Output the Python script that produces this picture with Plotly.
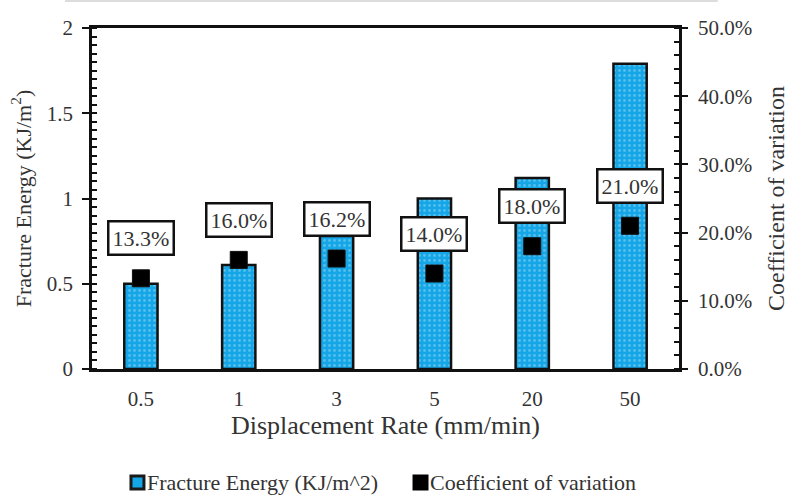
import plotly.graph_objects as go

# Fracture energy and its coefficient of variation at each loading rate
rates = ["0.5", "1", "3", "5", "20", "50"]
fracture_energy = [0.50, 0.61, 0.78, 1.00, 1.12, 1.79]   # KJ/m^2
cv_percent = [13.3, 16.0, 16.2, 14.0, 18.0, 21.0]       # %

energy_name = "Fracture Energy (KJ/m^2)"
cv_name = "Coefficient of variation"

SERIF = "Liberation Serif, Times New Roman, serif"
BAR_BLUE = "#14A6E6"
TXT = "#333333"

fig = go.Figure()

fig.add_trace(go.Bar(
    x=rates, y=fracture_energy,
    name=energy_name,
    width=0.34,
    marker=dict(
        color=BAR_BLUE,
        line=dict(color="#111111", width=2.5),
        pattern=dict(shape=".", fgcolor="rgba(255,255,255,0.55)",
                     bgcolor=BAR_BLUE, size=5, solidity=0.25),
    ),
    yaxis="y",
))

fig.add_trace(go.Scatter(
    x=rates, y=[v / 100 for v in cv_percent],
    name=cv_name,
    mode="markers",
    marker=dict(symbol="square", size=17, color="#000000",
                line=dict(color="#111111", width=1)),
    yaxis="y2",
))

# Boxed value labels placed above each CV marker (category index positions)
for i, v in enumerate(cv_percent):
    fig.add_annotation(
        x=i, y=v / 100, yref="y2", xref="x",
        text=f"{v:.1f}%", showarrow=False, yshift=40,
        font=dict(family=SERIF, size=22, color=TXT),
        bgcolor="white", bordercolor="#111111", borderwidth=2.5, borderpad=3,
    )

# faint frame line along the top edge
fig.add_shape(type="line", xref="paper", yref="paper",
              x0=-0.046, x1=1.066, y0=1.079, y1=1.079,
              line=dict(color="#DDDDDD", width=2))

# compact legend below the axis: swatch + label for each series
legend_items = [
    (energy_name, 0.0664, BAR_BLUE, "#1a1a1a"),
    (cv_name, 0.5486, "#000000", "#000000"),
]
sw_w, sw_y0, sw_y1 = 0.0221, -0.352, -0.314
for label, x0, fill, edge in legend_items:
    fig.add_shape(type="rect", xref="paper", yref="paper",
                  x0=x0, x1=x0 + sw_w, y0=sw_y0, y1=sw_y1,
                  fillcolor=fill, line=dict(color=edge, width=3))
    fig.add_annotation(xref="paper", yref="paper", x=x0 + sw_w + 0.003, y=-0.334,
                       xanchor="left", yanchor="middle", showarrow=False, text=label,
                       font=dict(family=SERIF, size=22, color=TXT), borderpad=0)

fig.update_layout(
    width=792, height=498,
    margin=dict(l=92, r=113, t=28, b=129, autoexpand=False),
    paper_bgcolor="white", plot_bgcolor="white",
    font=dict(family=SERIF, size=20, color=TXT),
    showlegend=False,
    xaxis=dict(
        type="category", range=[-0.5, len(rates) - 0.5], autorange=False,
        automargin=False,
        showline=True, linecolor="#111111", linewidth=2.5,
        mirror=True, ticks="", showgrid=False, ticklabelstandoff=9,
        tickfont=dict(family=SERIF, size=21, color=TXT),
        title=dict(text="Displacement Rate (mm/min)",
                   font=dict(family=SERIF, size=26, color=TXT), standoff=4),
    ),
    yaxis=dict(
        range=[0, 2], autorange=False, automargin=False,
        tickvals=[0, 0.5, 1, 1.5, 2], ticktext=["0", "0.5", "1", "1.5", "2"],
        showline=True, linecolor="#111111", linewidth=2.5, showgrid=False, zeroline=False,
        ticks="outside", ticklen=7, tickwidth=2, tickcolor="#111111", ticklabelstandoff=5,
        minor=dict(dtick=0.05, ticks="inside", ticklen=5, tickwidth=1.5, tickcolor="#111111",
                   showgrid=False),
        tickfont=dict(family=SERIF, size=21, color=TXT),
        title=dict(text="Fracture Energy (KJ/m<sup>2</sup>)",
                   font=dict(family=SERIF, size=22, color=TXT), standoff=10),
    ),
    yaxis2=dict(
        overlaying="y", side="right", range=[0, 0.5], autorange=False, automargin=False,
        tickvals=[0, 0.1, 0.2, 0.3, 0.4, 0.5], tickformat=".1%",
        showline=True, linecolor="#111111", linewidth=2.5, showgrid=False, zeroline=False,
        ticks="outside", ticklen=6, tickwidth=2, tickcolor="#111111", ticklabelstandoff=6,
        minor=dict(dtick=0.02, ticks="inside", ticklen=5, tickwidth=1.5, tickcolor="#111111",
                   showgrid=False),
        tickfont=dict(family=SERIF, size=21, color=TXT),
        title=dict(text="Coefficient of variation",
                   font=dict(family=SERIF, size=24, color=TXT), standoff=16),
    ),
)

fig.write_html("out.html")
